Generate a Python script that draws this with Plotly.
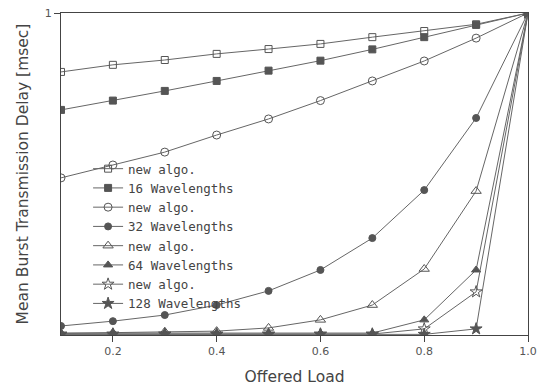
import plotly.graph_objects as go

load = [0.1, 0.2, 0.3, 0.4, 0.5, 0.6, 0.7, 0.8, 0.9, 1.0]

series_names = ["new algo.", "16 Wavelengths", "new algo.", "32 Wavelengths",
                "new algo.", "64 Wavelengths", "new algo.", "128 Wavelengths"]

new_algo_16 = [0.817, 0.839, 0.854, 0.873, 0.888, 0.904, 0.925, 0.944, 0.965, 1.0]
wl_16 = [0.699, 0.728, 0.758, 0.789, 0.821, 0.852, 0.887, 0.925, 0.963, 1.0]
new_algo_32 = [0.488, 0.528, 0.568, 0.621, 0.671, 0.728, 0.789, 0.851, 0.922, 1.0]
wl_32 = [0.028, 0.043, 0.062, 0.093, 0.137, 0.202, 0.301, 0.450, 0.674, 1.0]
new_algo_64 = [0.005, 0.007, 0.010, 0.012, 0.022, 0.047, 0.093, 0.205, 0.447, 1.0]
wl_64 = [0.006, 0.006, 0.006, 0.006, 0.006, 0.006, 0.006, 0.047, 0.202, 1.0]
new_algo_128 = [0.003, 0.003, 0.003, 0.003, 0.003, 0.003, 0.003, 0.019, 0.134, 1.0]
wl_128 = [0.002, 0.002, 0.002, 0.002, 0.002, 0.002, 0.002, 0.002, 0.019, 1.0]

all_series = [new_algo_16, wl_16, new_algo_32, wl_32,
              new_algo_64, wl_64, new_algo_128, wl_128]
symbols = ["square-open", "square", "circle-open", "circle",
           "triangle-up-open", "triangle-up", "star-open", "star"]
sizes = [7, 7, 8, 7, 9, 8, 9, 9]

x_ticks = [0.2, 0.4, 0.6, 0.8, 1.0]
x_ticklabels = ["0.2", "0.4", "0.6", "0.8", "1.0"]

grey = "#555555"
fig = go.Figure()
for name, ys, sym, sz in zip(series_names, all_series, symbols, sizes):
    fig.add_trace(go.Scatter(
        x=load, y=ys, name=name, mode="lines+markers",
        line=dict(color="#666666", width=1),
        marker=dict(symbol=sym, size=sz, color=grey,
                    line=dict(color=grey, width=1)),
    ))

font_family = "DejaVu Sans, Arial, sans-serif"
fig.update_layout(
    width=546, height=386,
    margin=dict(l=61, r=18, t=13, b=51),
    paper_bgcolor="white", plot_bgcolor="white",
    font=dict(family=font_family, size=12, color="#444444"),
    showlegend=True,
    legend=dict(x=0.058, y=0.562, xanchor="left", yanchor="top",
                bgcolor="rgba(0,0,0,0)",
                font=dict(family="DejaVu Sans Mono, monospace", size=12.5,
                          color="#444444"),
                tracegroupgap=0, itemwidth=30),
    xaxis=dict(range=[0.1, 1.0], tickvals=x_ticks, ticktext=x_ticklabels,
               showgrid=False, zeroline=False, showline=True,
               linecolor="#444444", linewidth=1, mirror=True,
               ticks="outside", ticklen=6, tickcolor="#444444",
               automargin=False,
               tickfont=dict(size=11, color="#555555"),
               title=dict(text="Offered Load", font=dict(size=15.5, color="#444444"),
                          standoff=14)),
    yaxis=dict(range=[0, 1], tickvals=[1], ticktext=["1"],
               showgrid=False, zeroline=False, showline=True,
               linecolor="#444444", linewidth=1, mirror=True,
               ticks="outside", ticklen=6, tickcolor="#444444",
               automargin=False,
               tickfont=dict(size=11, color="#555555"),
               title=dict(text="Mean Burst Transmission Delay [msec]",
                          font=dict(size=15.5, color="#444444"), standoff=12)),
)

fig.write_html("out.html",
               config={"displayModeBar": False},
               post_script="document.body.style.margin='0';")
